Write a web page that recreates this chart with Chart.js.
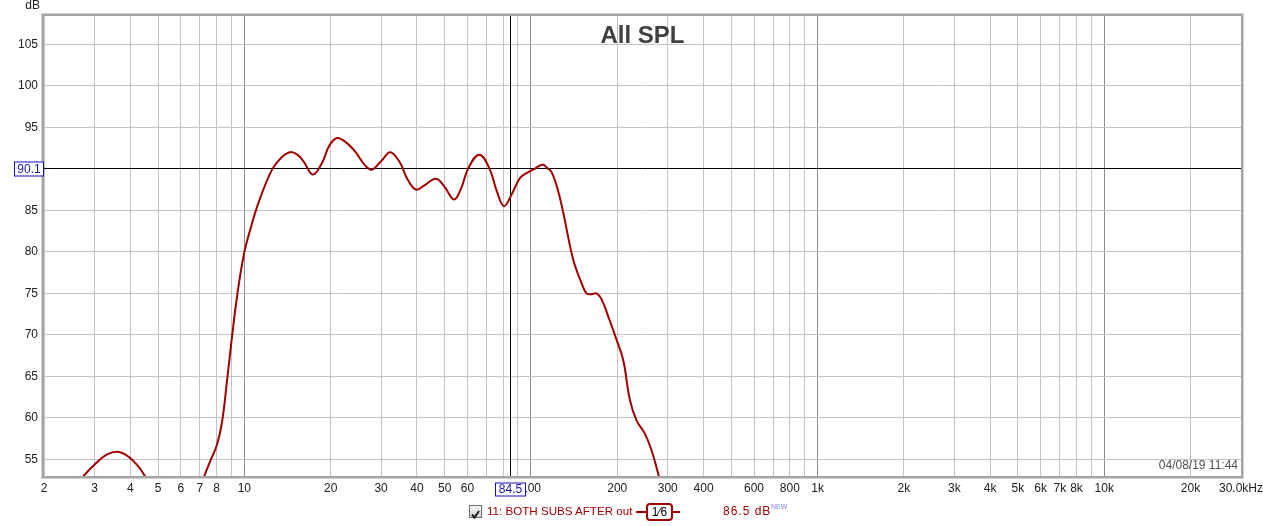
<!DOCTYPE html>
<html>
<head>
<meta charset="utf-8">
<script src="https://cdn.jsdelivr.net/npm/chart.js@4.4.0/dist/chart.umd.min.js"></script>
<style>
  html, body { margin: 0; padding: 0; background: #fff; }
  #wrap { position: relative; width: 1263px; height: 526px; font-family: "Liberation Sans", Arial, sans-serif; }
  .abs { position: absolute; white-space: nowrap; }
  #chk { left: 469px; top: 505px; width: 11px; height: 11px; border: 1px solid #707070; background: linear-gradient(#f4f4f4, #d8d8d8); }
  #name { left: 487px; top: 504px; font-size: 11.6px; line-height: 14px; color: #a00000; }
  #dash1 { left: 636px; top: 511px; width: 10px; height: 2px; background: #a00000; }
  #smooth { left: 646px; top: 503px; width: 23px; height: 14px; border: 2px solid #a00000; border-radius: 4px; font-size: 12px; line-height: 14px; text-align: center; color: #000; }
  #dash2 { left: 673px; top: 511px; width: 7px; height: 2px; background: #a00000; }
  #level { left: 723px; top: 504px; font-size: 12px; line-height: 14px; color: #a00000; letter-spacing: 1px; }
  #newtag { left: 771px; top: 503px; font-size: 7px; line-height: 8px; color: #8080ff; }
</style>
</head>
<body>
<div id="wrap">
  <canvas id="myChart" width="1263" height="526"></canvas>
  <div class="abs" id="chk"><svg width="11" height="11" viewBox="0 0 11 11"><path d="M2 5.5 L4.5 8.5 L9 2" fill="none" stroke="#202020" stroke-width="2"/></svg></div>
  <div class="abs" id="name">11: BOTH SUBS AFTER out</div>
  <div class="abs" id="dash1"></div>
  <div class="abs" id="smooth">1⁄6</div>
  <div class="abs" id="dash2"></div>
  <div class="abs" id="level">86.5 dB</div>
  <div class="abs" id="newtag">NEW</div>
</div>
<script>
// frequency response (Hz / dB SPL)
const freqHz = [2, 2.4, 2.75, 3.03, 3.32, 3.65, 3.95, 4.23, 4.48, 5, 5.8, 6.6,
  7.25, 7.65, 8.03, 8.36, 8.71, 9.06, 9.43, 9.95, 10.49, 11.2, 12.49, 13.5, 14.45,
  15.3, 16.09, 17.34, 18.66, 19.8, 21.04, 22.4, 24.04, 27.5, 30, 32.3, 34.97, 37,
  39.7, 42.5, 46.6, 50, 53.9, 57, 60.5, 66.1, 71.9, 76, 80.5, 85.6, 91.6, 97.9,
  103, 109.5, 114, 118, 124, 129.6, 140.3, 150.2, 156.3, 163, 169.3, 176.2, 187,
  198.9, 209.7, 221.3, 233.4, 249.6, 263.4, 277.8, 300, 340];
const splDb = [46, 50.5, 53.0, 54.5, 55.6, 55.9, 55.3, 54.3, 53.1, 50, 46.5, 49,
  53.0, 55.0, 56.8, 59.5, 64.6, 69.8, 74.6, 79.6, 82.7, 85.9, 89.9, 91.4, 92.0,
  91.7, 90.9, 89.3, 90.7, 92.8, 93.7, 93.3, 92.3, 89.9, 90.9, 92.0, 90.7, 88.8,
  87.5, 88.0, 88.8, 87.8, 86.3, 87.6, 90.1, 91.7, 89.9, 87.3, 85.5, 86.9, 88.9, 89.6,
  90.0, 90.5, 90.1, 89.6, 87.5, 84.7, 79.1, 76.2, 75.0, 74.9, 75.0, 74.3, 72.0,
  69.4, 67.0, 62.2, 59.7, 58.1, 56.1, 53.3, 49, 42];

const xGrid = [2, 3, 4, 5, 6, 7, 8, 9, 10, 20, 30, 40, 50, 60, 70, 80, 90, 100,
  200, 300, 400, 500, 600, 700, 800, 900, 1000, 2000, 3000, 4000, 5000, 6000, 7000,
  8000, 9000, 10000, 20000, 30000];
const xTickLabels = {2: '2', 3: '3', 4: '4', 5: '5', 6: '6', 7: '7', 8: '8', 10: '10',
  20: '20', 30: '30', 40: '40', 50: '50', 60: '60', 80: '80', 100: '100', 200: '200',
  300: '300', 400: '400', 600: '600', 800: '800', 1000: '1k', 2000: '2k', 3000: '3k',
  4000: '4k', 5000: '5k', 6000: '6k', 7000: '7k', 8000: '8k', 10000: '10k',
  20000: '20k', 30000: '30.0kHz'};
const yTicks = [55, 60, 65, 70, 75, 80, 85, 90, 95, 100, 105];

const cursorHz = 84.5;
const cursorDb = 90.1;
const chartTitle = 'All SPL';
const stamp = '04/08/19 11:44';

const fontFamily = '"Liberation Sans", Arial, sans-serif';

const points = freqHz.map(function (f, i) {
  return { x: f, y: splDb[i] };
});

const rewPlugin = {
  id: 'rew',
  beforeDatasetsDraw(chart) {
    const { ctx, chartArea: a, scales } = chart;
    const cx = Math.round(scales.x.getPixelForValue(cursorHz)) + 0.5;
    const cy = Math.round(scales.y.getPixelForValue(cursorDb)) + 0.5;
    ctx.save();
    ctx.strokeStyle = '#000';
    ctx.lineWidth = 1;
    ctx.beginPath();
    ctx.moveTo(cx, a.top); ctx.lineTo(cx, a.bottom);
    ctx.moveTo(a.left, cy); ctx.lineTo(a.right, cy);
    ctx.stroke();
    ctx.restore();
  },
  afterDraw(chart) {
    const { ctx, chartArea: a, scales } = chart;
    ctx.save();
    // frame
    ctx.strokeStyle = '#d2d2d2';
    ctx.lineWidth = 1;
    ctx.strokeRect(a.left - 2.5, a.top - 2.5, a.right - a.left + 5, a.bottom - a.top + 5);
    ctx.strokeStyle = '#a4a4a4';
    ctx.lineWidth = 2;
    ctx.strokeRect(a.left - 1, a.top - 1, a.right - a.left + 2, a.bottom - a.top + 2);

    // title
    ctx.fillStyle = '#404040';
    ctx.font = 'bold 24px ' + fontFamily;
    ctx.textAlign = 'center';
    ctx.textBaseline = 'alphabetic';
    ctx.fillText(chartTitle, (a.left + a.right) / 2, 43);

    // date stamp
    ctx.font = '12px ' + fontFamily;
    ctx.fillStyle = '#505050';
    ctx.textAlign = 'right';
    ctx.textBaseline = 'middle';
    ctx.fillText(stamp, a.right - 3, a.bottom - 10);

    // axis unit
    ctx.fillStyle = '#202020';
    ctx.textAlign = 'right';
    ctx.fillText('dB', 40, 6);

    // cursor value boxes
    const cx = scales.x.getPixelForValue(cursorHz);
    const cy = scales.y.getPixelForValue(cursorDb);
    ctx.font = '12px ' + fontFamily;
    ctx.textAlign = 'center';
    ctx.textBaseline = 'middle';
    const boxes = [
      { text: cursorDb.toFixed(1), x: 14, y: Math.round(cy) - 6.5, w: 29, h: 14 },
      { text: cursorHz.toFixed(1), x: Math.round(cx) - 15, y: a.bottom + 6.5, w: 30, h: 13 }
    ];
    boxes.forEach(function (b) {
      ctx.fillStyle = '#fff';
      ctx.fillRect(b.x, b.y, b.w, b.h);
      ctx.strokeStyle = '#1010c0';
      ctx.lineWidth = 1;
      ctx.strokeRect(b.x + 0.5, b.y + 0.5, b.w, b.h);
      ctx.fillStyle = '#1818b0';
      ctx.fillText(b.text, b.x + b.w / 2 + 0.5, b.y + b.h / 2 + 1);
    });
    ctx.restore();
  }
};

new Chart(document.getElementById('myChart'), {
  type: 'line',
  data: {
    datasets: [{
      data: points,
      borderColor: '#a00000',
      borderWidth: 2,
      pointRadius: 0,
      tension: 0.4,
      fill: false,
      clip: 0
    }]
  },
  options: {
    responsive: false,
    animation: false,
    layout: { padding: { top: 16, right: 22, left: 0, bottom: 0 } },
    plugins: {
      legend: { display: false },
      tooltip: { enabled: false }
    },
    scales: {
      x: {
        type: 'logarithmic',
        min: 2,
        max: 30000,
        afterBuildTicks: function (scale) {
          scale.ticks = xGrid.map(function (v) { return { value: v }; });
        },
        afterFit: function (scale) {
          scale.height = 50;
          scale.paddingLeft = 0;
          scale.paddingRight = 0;
        },
        border: { display: false },
        grid: {
          drawTicks: false,
          color: function (c) {
            const v = c.tick ? c.tick.value : 0;
            return [10, 100, 1000, 10000].indexOf(v) >= 0 ? '#8c8c8c' : '#c4c4c4';
          }
        },
        ticks: {
          autoSkip: false,
          maxRotation: 0,
          padding: 5,
          color: '#202020',
          font: { family: fontFamily, size: 12 },
          callback: function (value) {
            return xTickLabels[value] || '';
          }
        }
      },
      y: {
        min: 53,
        max: 108.4,
        afterBuildTicks: function (scale) {
          scale.ticks = yTicks.map(function (v) { return { value: v }; });
        },
        afterFit: function (scale) {
          scale.width = 44;
          scale.paddingTop = 0;
          scale.paddingBottom = 0;
        },
        border: { display: false },
        grid: { drawTicks: false, color: '#c4c4c4' },
        ticks: {
          padding: 6,
          color: '#202020',
          font: { family: fontFamily, size: 12 }
        }
      }
    }
  },
  plugins: [rewPlugin]
});
</script>
</body>
</html>
